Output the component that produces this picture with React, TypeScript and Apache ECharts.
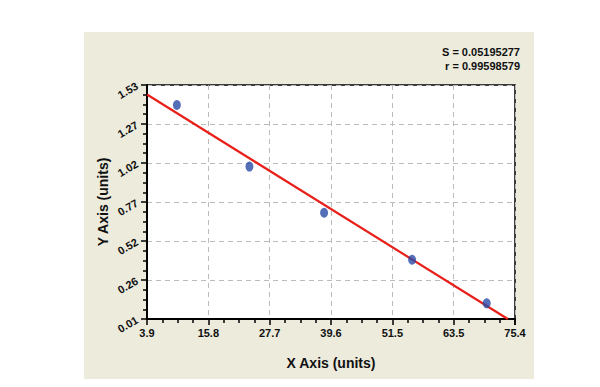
import React, { useEffect, useRef } from "react";
import * as echarts from "echarts";

const xTickLabels = ["3.9", "15.8", "27.7", "39.6", "51.5", "63.5", "75.4"];
const yTickLabels = ["0.01", "0.26", "0.52", "0.77", "1.02", "1.27", "1.53"];
const pointX = [9.7, 23.8, 38.3, 55.4, 69.9];
const pointY = [1.4, 1.0, 0.7, 0.395, 0.112];
const fitX = [3.9, 74.0];
const fitY = [1.468, 0.01];
const statLines = ["S = 0.05195277", "r = 0.99598579"];

const X_MIN = 3.9;
const X_MAX = 75.4;
const Y_MIN = 0.01;
const Y_MAX = 1.53;

export default function App() {
  const ref = useRef<HTMLDivElement>(null);
  useEffect(() => {
    if (!ref.current) return;
    const chart = echarts.init(ref.current, undefined, { renderer: "svg" });
    const font = "'Liberation Sans', Arial, sans-serif";
    chart.setOption({
      animation: false,
      backgroundColor: "#ffffff",
      graphic: [
        {
          type: "rect",
          z: -10,
          shape: { x: 84, y: 32, width: 450, height: 347 },
          style: { fill: "#ecebdc" },
          silent: true,
        },
        ...statLines.map((t, i) => ({
          type: "text",
          z: 10,
          x: 520,
          y: 52 + i * 14,
          style: {
            text: t,
            align: "right",
            verticalAlign: "middle",
            font: `bold 11px ${font}`,
            fill: "#111",
          },
        })),
      ],
      grid: {
        left: 147,
        top: 85,
        right: 85,
        bottom: 68,
        show: true,
        backgroundColor: "#ffffff",
        borderColor: "#000",
        borderWidth: 1.5,
      },
      xAxis: {
        type: "value",
        min: X_MIN,
        max: X_MAX,
        interval: (X_MAX - X_MIN) / 6,
        name: "X Axis (units)",
        nameLocation: "middle",
        nameGap: 37,
        nameMoveOverlap: false,
        nameTextStyle: { fontFamily: font, fontWeight: "bold", fontSize: 14, color: "#111" },
        axisLine: { show: true, lineStyle: { color: "#000", width: 2 } },
        axisTick: { show: true, length: 6, lineStyle: { color: "#000", width: 1.5 } },
        minorTick: { show: true, splitNumber: 4, length: 4, lineStyle: { color: "#000", width: 1.5 } },
        axisLabel: {
          fontFamily: font,
          fontWeight: "bold",
          fontSize: 11,
          color: "#111",
          margin: 8,
          formatter: (_v: number, i: number) => xTickLabels[i] ?? "",
        },
        splitLine: { show: true, lineStyle: { color: "#bbb", type: [5, 4], width: 1 } },
      },
      yAxis: {
        type: "value",
        min: Y_MIN,
        max: Y_MAX,
        interval: (Y_MAX - Y_MIN) / 6,
        name: "Y Axis (units)",
        nameLocation: "middle",
        nameGap: 37,
        nameMoveOverlap: false,
        nameRotate: 90,
        nameTextStyle: { fontFamily: font, fontWeight: "bold", fontSize: 14, color: "#111" },
        axisLine: { show: true, lineStyle: { color: "#000", width: 2 } },
        axisTick: { show: true, length: 6, lineStyle: { color: "#000", width: 1.5 } },
        minorTick: { show: true, splitNumber: 4, length: 4, lineStyle: { color: "#000", width: 1.5 } },
        axisLabel: {
          fontFamily: font,
          fontWeight: "bold",
          fontSize: 11,
          color: "#111",
          rotate: 30,
          margin: 10,
          formatter: (_v: number, i: number) => yTickLabels[i] ?? "",
        },
        splitLine: { show: true, lineStyle: { color: "#bbb", type: [5, 4], width: 1 } },
      },
      series: [
        {
          type: "line",
          data: fitX.map((x, i) => [x, fitY[i]]),
          showSymbol: false,
          symbol: "none",
          lineStyle: { color: "#e8201a", width: 2.2 },
          z: 2,
        },
        {
          type: "scatter",
          data: pointX.map((x, i) => [x, pointY[i]]),
          symbol: "circle",
          symbolSize: [8, 10],
          itemStyle: { color: "#2a4aa6" },
          z: 3,
        },
      ],
    });
    return () => chart.dispose();
  }, []);
  return (
    <div
      ref={ref}
      style={{ position: "absolute", left: 0, top: 0, width: 600, height: 387 }}
    />
  );
}
